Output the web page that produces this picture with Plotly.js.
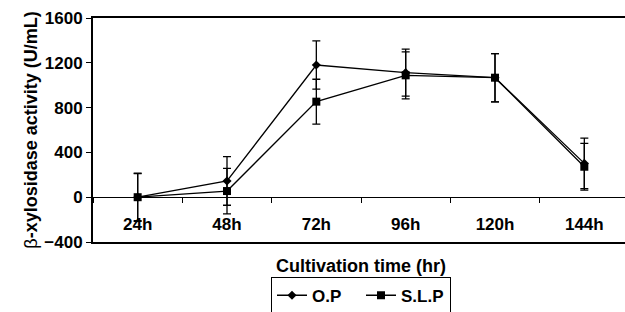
<!DOCTYPE html>
<html><head><meta charset="utf-8">
<script src="https://cdn.plot.ly/plotly-3.0.1.min.js"></script>
<style>html,body{margin:0;padding:0;overflow:hidden;background:#fff}</style>
</head><body><div id="chart"></div>
<script>
const times = ['24h','48h','72h','96h','120h','144h'];
const opValues = [0, 145, 1180, 1112, 1067, 302];
const opErrors = [215, 217, 215, 210, 215, 226];
const slpValues = [0, 55, 853, 1088, 1067, 272];
const slpErrors = [210, 203, 200, 210, 215, 209];
const seriesNames = ['O.P', 'S.L.P'];

const font = 'Liberation Sans, Arial, Helvetica, sans-serif';
const traces = [
  {x: times, y: opValues, name: seriesNames[0], type: 'scatter', mode: 'lines+markers',
   line: {color: '#000', width: 1.3}, marker: {symbol: 'diamond', size: 7, color: '#000'},
   error_y: {type: 'data', array: opErrors, visible: true, color: '#000', thickness: 1.3, width: 4}},
  {x: times, y: slpValues, name: seriesNames[1], type: 'scatter', mode: 'lines+markers',
   line: {color: '#000', width: 1.3}, marker: {symbol: 'square', size: 8, color: '#000'},
   error_y: {type: 'data', array: slpErrors, visible: true, color: '#000', thickness: 1.3, width: 4}},
  {x: times, y: times.map(() => null), xaxis: 'x2', yaxis: 'y', showlegend: false,
   hoverinfo: 'skip', mode: 'lines', line: {width: 0}}
];
const layout = {
  width: 632, height: 330,
  margin: {l: 93, r: 3, t: 18, b: 88},
  paper_bgcolor: '#fff', plot_bgcolor: '#fff',
  font: {family: font, color: '#000', size: 14},
  showlegend: true,
  legend: {orientation: 'h', x: 0.5, xanchor: 'center', y: -0.155, yanchor: 'top',
    bordercolor: '#000', borderwidth: 1, bgcolor: '#fff', itemwidth: 30, entrywidth: 44,
    font: {family: font, size: 17, weight: 'bold', color: '#000'}},
  xaxis: {type: 'category', range: [-0.5, 5.5], showline: true, mirror: true, linecolor: '#000',
    linewidth: 2, ticks: '', showticklabels: false, showgrid: false, zeroline: false, automargin: false,
    title: {text: 'Cultivation time (hr)', font: {family: font, size: 18, weight: 'bold'}, standoff: 16}},
  xaxis2: {type: 'category', overlaying: 'x', anchor: 'free', position: 0.2, side: 'bottom',
    range: [-0.5, 5.5], showline: false, ticks: 'outside', tickson: 'boundaries', ticklen: 5,
    tickcolor: '#000', tickwidth: 1, showgrid: false, zeroline: false, ticklabelstandoff: 15, automargin: false,
    tickfont: {family: font, size: 17, weight: 'bold', color: '#000'}},
  yaxis: {range: [-400, 1600], tickvals: [-400, 0, 400, 800, 1200, 1600], ticks: 'outside', ticklen: 5,
    tickcolor: '#000', showline: true, mirror: true, linecolor: '#000', linewidth: 2, automargin: false,
    showgrid: false, zeroline: true, zerolinecolor: '#000', zerolinewidth: 1,
    tickfont: {family: font, size: 17, weight: 'bold', color: '#000'},
    title: {text: '<span style="font-weight:normal">β</span>-xylosidase activity (U/mL)',
      font: {family: font, size: 18, weight: 'bold'}, standoff: 2}}
};
Plotly.newPlot('chart', traces, layout, {displayModeBar: false, staticPlot: true});
</script></body></html>
